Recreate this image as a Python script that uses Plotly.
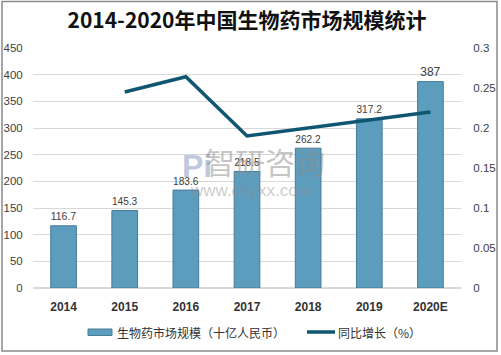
import plotly.graph_objects as go

years = ["2014", "2015", "2016", "2017", "2018", "2019", "2020E"]
market_size = [116.7, 145.3, 183.6, 218.5, 262.2, 317.2, 387]
growth = [None, 0.245, 0.264, 0.19, 0.20, 0.21, 0.22]
left_ticks = [0, 50, 100, 150, 200, 250, 300, 350, 400, 450]
right_ticks = [0, 0.05, 0.1, 0.15, 0.2, 0.25, 0.3]
series_names = ["生物药市场规模（十亿人民币）", "同比增长（%）"]

W, H = 501, 355
ml, mr, mt, mb = 33, 40, 48, 67
BAR_COLOR = "#5c9dbd"
BAR_EDGE = "#467d97"
LINE_COLOR = "#0f5670"
TXT = "#404040"

fig = go.Figure()
fig.add_trace(go.Bar(
    x=years, y=market_size, name=series_names[0],
    marker=dict(color=BAR_COLOR, line=dict(color=BAR_EDGE, width=1)),
    width=0.42,
    text=[f"{v:g}" for v in market_size], textposition="outside",
    textfont=dict(size=12, color=TXT, family="Liberation Sans, Arial"),
    cliponaxis=False, showlegend=False,
))
fig.add_trace(go.Scatter(
    x=years, y=growth, name=series_names[1], yaxis="y2", mode="lines",
    line=dict(color=LINE_COLOR, width=3.5), connectgaps=False, showlegend=False,
))

pw, ph = W - ml - mr, H - mt - mb
def px_x(p): return (p - ml) / pw
def px_y(p): return (H - mb - p) / ph

# outer frame
fig.add_shape(type="rect", xref="paper", yref="paper",
              x0=px_x(2), x1=px_x(497), y0=px_y(351), y1=px_y(1.5),
              line=dict(color="#8a8a8a", width=1.5), layer="above")

# custom legend
fig.add_shape(type="rect", xref="paper", yref="paper",
              x0=px_x(88), x1=px_x(112), y0=px_y(335.5), y1=px_y(329),
              fillcolor=BAR_COLOR, line=dict(color=BAR_EDGE, width=1))
fig.add_annotation(xref="paper", yref="paper", x=px_x(115), y=px_y(332),
                   xanchor="left", yanchor="middle", text=series_names[0], showarrow=False,
                   font=dict(size=12, color="#333333", family="Noto Sans CJK SC"))
fig.add_shape(type="line", xref="paper", yref="paper",
              x0=px_x(307), x1=px_x(335), y0=px_y(332), y1=px_y(332),
              line=dict(color=LINE_COLOR, width=3.5))
fig.add_annotation(xref="paper", yref="paper", x=px_x(336), y=px_y(332),
                   xanchor="left", yanchor="middle", text=series_names[1], showarrow=False,
                   font=dict(size=12, color="#333333", family="Noto Sans CJK SC"))

# watermark
fig.add_annotation(xref="paper", yref="paper", x=px_x(265), y=px_y(161),
                   text="智研咨询", showarrow=False,
                   font=dict(size=30, color="rgba(140,140,140,0.5)", family="Noto Sans CJK SC"))
fig.add_annotation(xref="paper", yref="paper", x=px_x(251), y=px_y(190),
                   text="www.chyxx.com", showarrow=False,
                   font=dict(size=17, color="rgba(140,140,140,0.45)", family="Liberation Sans, Arial"))
fig.add_annotation(xref="paper", yref="paper", x=px_x(197), y=px_y(166),
                   text="<b>Pi</b>", showarrow=False,
                   font=dict(size=32, color="rgba(110,130,175,0.45)", family="Liberation Sans, Arial"))

fig.update_layout(
    width=W, height=H,
    margin=dict(l=ml, r=mr, t=mt, b=mb),
    paper_bgcolor="white", plot_bgcolor="white",
    title=dict(text="<b>2014-2020年中国生物药市场规模统计</b>", x=0.5, xref="paper",
               y=1 - 21 / H, yanchor="middle", xanchor="center",
               font=dict(size=21, color="#111111", family="Noto Sans CJK SC")),
    xaxis=dict(type="category", showgrid=False, showline=False, ticks="outside",
               ticklen=8, tickcolor="rgba(0,0,0,0)", automargin=False,
               tickfont=dict(size=12, color="#333333", family="Liberation Sans, Arial", weight="bold"),
               range=[-0.5, 6.5]),
    yaxis=dict(range=[0, 450], tickvals=left_ticks, showgrid=True, gridcolor="#d9d9d9",
               gridwidth=1, zeroline=True, zerolinecolor="#d9d9d9", showline=False,
               automargin=False,
               tickfont=dict(size=11.5, color=TXT, family="Liberation Sans, Arial"),
               ticks="outside", ticklen=7, tickcolor="rgba(0,0,0,0)"),
    yaxis2=dict(range=[0, 0.3], tickvals=right_ticks, overlaying="y", side="right",
                showgrid=False, zeroline=False, showline=False, automargin=False,
                tickfont=dict(size=11.5, color=TXT, family="Liberation Sans, Arial"),
                ticks="outside", ticklen=9, tickcolor="rgba(0,0,0,0)"),
    bargap=0.58,
    showlegend=False,
)
fig.write_html("out.html", config={"displayModeBar": False})

# remove default page margin so the figure sits at the window's top-left corner
with open("out.html", "r", encoding="utf-8") as f:
    html = f.read()
html = html.replace("<head>", "<head><style>html,body{margin:0;padding:0;overflow:hidden;}</style>", 1)
with open("out.html", "w", encoding="utf-8") as f:
    f.write(html)
